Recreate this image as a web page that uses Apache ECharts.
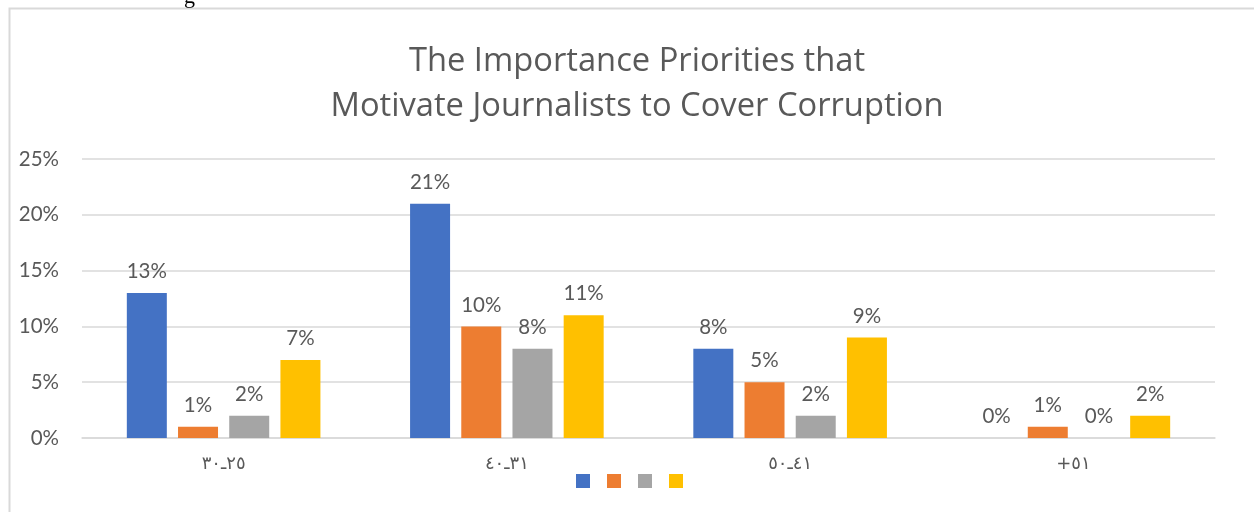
<!DOCTYPE html>
<html>
<head>
<meta charset="utf-8">
<script src="https://cdn.jsdelivr.net/npm/echarts@6/dist/echarts.min.js"></script>
<style>
  html, body { margin: 0; padding: 0; background: #fff; }
  #chart { width: 1254px; height: 512px; }
</style>
</head>
<body>
<div id="chart"></div>
<script>
// Age groups (Arabic-Indic digits), kept in left-to-right visual order
const categories = ['\u202D٣٠ـ٢٥\u202C', '\u202D٤٠ـ٣١\u202C', '\u202D٥٠ـ٤١\u202C', '\u202D+٥١\u202C'];

// Share of journalists per priority, in percent
const series1 = [13, 21, 8, 0];
const series2 = [1, 10, 5, 1];
const series3 = [2, 8, 2, 0];
const series4 = [7, 11, 9, 2];

const seriesNames = ['Series 1', 'Series 2', 'Series 3', 'Series 4'];
const seriesColors = ['#4472C4', '#ED7D31', '#A5A5A5', '#FFC000'];

const yTicks = [0, 5, 10, 15, 20, 25];

const textFont = 'Lato, "Open Sans", sans-serif';
const titleFont = '"Open Sans", Lato, sans-serif';
const textColor = '#595959';

const chart = echarts.init(document.getElementById('chart'), null, { renderer: 'canvas' });

function bar(name, data, color) {
  return {
    name: name,
    type: 'bar',
    data: data,
    barWidth: 40,
    barGap: '28%',
    itemStyle: { color: color },
    label: {
      show: true,
      position: 'top',
      distance: 11,
      formatter: '{c}%',
      color: textColor,
      fontFamily: textFont,
      fontSize: 20.5
    }
  };
}

chart.setOption({
  animation: false,
  backgroundColor: '#ffffff',
  title: {
    text: 'The Importance Priorities that\nMotivate Journalists to Cover Corruption',
    left: 632,
    textAlign: 'center',
    top: 34,
    textStyle: {
      color: textColor,
      fontFamily: titleFont,
      fontWeight: 400,
      fontSize: 32.7,
      lineHeight: 45
    }
  },
  graphic: [{
    type: 'rect',
    shape: { x: 9.5, y: 8.5, width: 1300, height: 600 },
    style: { fill: 'none', stroke: '#d9d9d9', lineWidth: 2 },
    silent: true,
    z: -1
  }, {
    // tail of the caption line above the frame
    type: 'text',
    x: 184,
    y: -14,
    style: {
      text: 'g',
      fill: '#000',
      font: '22px "Liberation Serif", serif'
    },
    silent: true
  }],
  legend: {
    left: 571,
    top: 469,
    icon: 'rect',
    itemWidth: 14,
    itemHeight: 14,
    itemGap: 17,
    formatter: function () { return ''; },
    data: seriesNames,
    selectedMode: false
  },
  grid: { left: 82, right: 39, top: 159, bottom: 74 },
  xAxis: {
    type: 'category',
    data: categories,
    axisLine: { lineStyle: { color: '#d9d9d9', width: 1.5 } },
    axisTick: { show: false },
    axisLabel: {
      color: textColor,
      fontFamily: '"DejaVu Sans", sans-serif',
      fontSize: 18,
      margin: 17
    }
  },
  yAxis: {
    type: 'value',
    min: yTicks[0],
    max: yTicks[yTicks.length - 1],
    interval: 5,
    axisLine: { show: false },
    axisTick: { show: false },
    splitLine: { lineStyle: { color: '#d9d9d9', width: 1.5 } },
    axisLabel: {
      color: textColor,
      fontFamily: textFont,
      fontSize: 20.5,
      margin: 23,
      formatter: '{value}%'
    }
  },
  series: [
    bar(seriesNames[0], series1, seriesColors[0]),
    bar(seriesNames[1], series2, seriesColors[1]),
    bar(seriesNames[2], series3, seriesColors[2]),
    bar(seriesNames[3], series4, seriesColors[3])
  ]
});
</script>
</body>
</html>
